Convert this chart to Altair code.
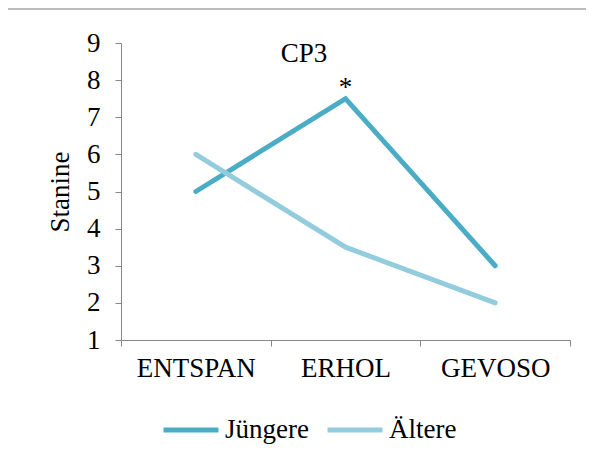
import altair as alt
import pandas as pd

categories = ["ENTSPAN", "ERHOL", "GEVOSO"]
series = ["Jüngere", "Ältere"]
juengere = [5, 7.5, 3]
aeltere = [6, 3.5, 2]
y_ticks = [1, 2, 3, 4, 5, 6, 7, 8, 9]
colors = ["#4BACC6", "#93CDDD"]
panel_label = "CP3"
star_category = "ERHOL"
star_value = 7.5

FONT = "Liberation Serif"
FS = 27
GRAY = "#868686"

rows = []
for s, vals in zip(series, [juengere, aeltere]):
    for c, v in zip(categories, vals):
        rows.append({"Kategorie": c, "Gruppe": s, "Stanine": v})
df = pd.DataFrame(rows)

x_enc = alt.X(
    "Kategorie:N",
    sort=categories,
    scale=alt.Scale(type="band", domain=categories, paddingInner=0, paddingOuter=0),
    axis=alt.Axis(
        title=None, tickBand="extent", labelAngle=0,
        labelFont=FONT, labelFontSize=FS, labelColor="black",
        labelPadding=9, tickSize=6, tickColor=GRAY, domainColor=GRAY,
        grid=False, labelOverlap=False,
    ),
)
y_enc = alt.Y(
    "Stanine:Q",
    scale=alt.Scale(domain=[1, 9], nice=False, zero=False),
    axis=alt.Axis(
        title="Stanine", values=y_ticks, format="d",
        labelFont=FONT, labelFontSize=FS, labelColor="black",
        labelPadding=15, tickSize=6, tickColor=GRAY, domainColor=GRAY,
        titleFont=FONT, titleFontSize=FS, titleFontWeight="normal",
        titleColor="black", titlePadding=12, grid=False,
        labelOverlap=False, labelBound=False,
    ),
)

lines = alt.Chart(df).mark_line(strokeWidth=5, strokeCap="round", strokeJoin="miter").encode(
    x=x_enc,
    y=y_enc,
    color=alt.Color(
        "Gruppe:N",
        sort=series,
        scale=alt.Scale(domain=series, range=colors),
        legend=alt.Legend(
            title=None, orient="none", direction="horizontal",
            legendX=40, legendY=357, padding=0,
            symbolType="stroke", symbolSize=3025, symbolStrokeWidth=5,
            labelFont=FONT, labelFontSize=FS, labelColor="black",
            labelOffset=4, columnPadding=8,
        ),
    ),
)

star_df = pd.DataFrame({"Kategorie": [star_category], "Stanine": [star_value], "t": ["*"]})
star = alt.Chart(star_df).mark_text(font=FONT, fontSize=FS, baseline="alphabetic", dy=-3, color="black").encode(
    x=x_enc, y=y_enc, text="t:N"
)

label_df = pd.DataFrame({"t": [panel_label]})
label = alt.Chart(label_df).mark_text(font=FONT, fontSize=FS, baseline="alphabetic", align="center", color="black").encode(
    x=alt.value(183), y=alt.value(19), text="t:N"
)

border = alt.Chart(label_df).mark_rule(color="#A6A6A6", strokeWidth=1.5).encode(
    x=alt.value(-113), x2=alt.value(465), y=alt.value(-34)
)

chart = alt.layer(border, lines, star, label).properties(
    width=449, height=297,
    autosize=alt.AutoSizeParams(type="none"),
    padding={"left": 113, "top": 35, "right": 16, "bottom": 122},
).configure(
    background="white", font=FONT
).configure_view(stroke=None).configure_legend(labelFont=FONT).configure_axis(labelFont=FONT, titleFont=FONT)

chart.save("out.html", embed_options={"renderer": "svg", "actions": False})
